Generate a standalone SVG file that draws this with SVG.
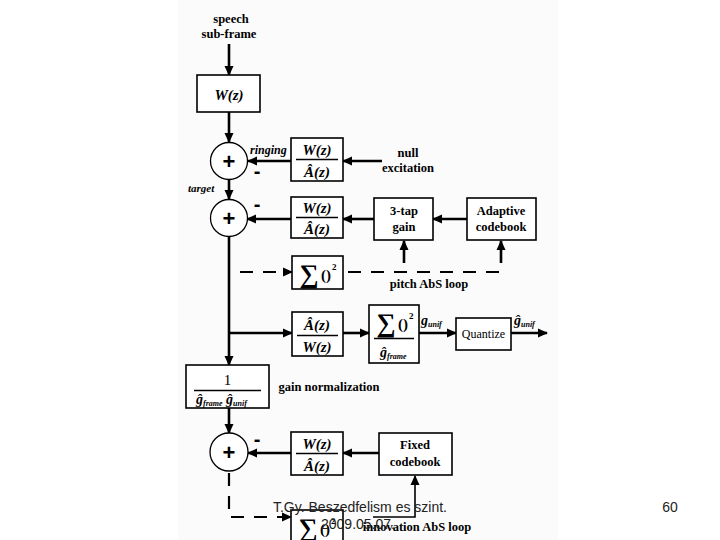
<svg xmlns="http://www.w3.org/2000/svg" width="720" height="540" viewBox="0 0 720 540">
<defs>
<marker id="ah" markerUnits="userSpaceOnUse" markerWidth="10" markerHeight="10" refX="9" refY="5" orient="auto">
<path d="M0,0.5 L10,5 L0,9.5 z" fill="#000"/>
</marker>
<style>
.t{font-family:"Liberation Serif",serif;font-weight:bold;font-size:12.5px;fill:#000;text-anchor:middle}
.ti{font-family:"Liberation Serif",serif;font-weight:bold;font-style:italic;font-size:12px;fill:#000}
.m{font-family:"Liberation Serif",serif;font-weight:bold;font-style:italic;font-size:15px;fill:#000;text-anchor:middle}
.sub{font-size:8px}
.box{fill:#fff;stroke:#000;stroke-width:1.6}
.fl{stroke:#000;stroke-width:1.5}
.c{stroke:#000;stroke-width:2.6;fill:none}
.d{stroke:#000;stroke-width:2.2;fill:none;stroke-dasharray:13 10}
.ft{font-family:"Liberation Sans",Arial,sans-serif;font-size:14px;fill:#222}
.sg{font-family:"Liberation Sans",sans-serif;font-weight:bold;font-size:22px;fill:#000;text-anchor:middle}
.mi{font-family:"Liberation Sans",sans-serif;font-weight:bold;font-size:20px;fill:#000;text-anchor:middle}
.sig{font-family:"Liberation Serif",serif;font-size:27px;font-weight:bold;text-anchor:middle}
.par{font-family:"Liberation Serif",serif;font-size:15px;font-weight:bold;text-anchor:middle}
.sup{font-family:"Liberation Serif",serif;font-size:9px;font-weight:bold}
</style>
</defs>
<rect x="0" y="0" width="720" height="540" fill="#fff"/>
<rect x="178" y="0" width="380" height="540" fill="#fbfbfb"/>

<g id="connectors">
<line class="c" x1="229" y1="44" x2="229" y2="75" marker-end="url(#ah)"/>
<line class="c" x1="229" y1="112" x2="229" y2="142" marker-end="url(#ah)"/>
<line class="c" x1="229" y1="179" x2="229" y2="199" marker-end="url(#ah)"/>
<line class="c" x1="382" y1="161" x2="343" y2="161" marker-end="url(#ah)"/>
<line class="c" x1="291" y1="161" x2="248" y2="161" marker-end="url(#ah)"/>
<line class="c" x1="467" y1="219" x2="433" y2="219" marker-end="url(#ah)"/>
<line class="c" x1="374" y1="219" x2="343" y2="219" marker-end="url(#ah)"/>
<line class="c" x1="291" y1="219" x2="247" y2="219" marker-end="url(#ah)"/>
<line class="c" x1="229" y1="236" x2="229" y2="365" marker-end="url(#ah)"/>
<line class="d" x1="240" y1="272" x2="292" y2="272" marker-end="url(#ah)"/>
<line class="d" x1="348" y1="272" x2="502" y2="272"/>
<line class="c" x1="404" y1="263" x2="404" y2="241" marker-end="url(#ah)"/>
<line class="c" x1="501" y1="263" x2="501" y2="241" marker-end="url(#ah)"/>
<line class="c" x1="229" y1="333" x2="292" y2="333" marker-end="url(#ah)"/>
<line class="c" x1="343" y1="333" x2="369" y2="333" marker-end="url(#ah)"/>
<line class="c" x1="419" y1="333" x2="456" y2="333" marker-end="url(#ah)"/>
<line class="c" x1="511" y1="333" x2="547" y2="333" marker-end="url(#ah)"/>
<line class="c" x1="229" y1="408" x2="229" y2="433" marker-end="url(#ah)"/>
<line class="c" x1="379" y1="453" x2="343" y2="453" marker-end="url(#ah)"/>
<line class="c" x1="291" y1="453" x2="248" y2="453" marker-end="url(#ah)"/>
<polyline class="d" points="229,473 229,517 291,517" marker-end="url(#ah)"/>
<polyline class="c" points="373,517 415,517 415,476" marker-end="url(#ah)" style="stroke-width:1.6"/>
</g>

<g id="speech">
<text class="t" x="231" y="23">speech</text>
<text class="t" x="229" y="38">sub-frame</text>
</g>

<g id="wz">
<rect class="box" x="197" y="75" width="63" height="37"/>
<text class="m" x="229" y="100">W(z)</text>
</g>

<g id="sum1">
<circle cx="229" cy="161" r="18.5" fill="#fff" stroke="#000" stroke-width="1.3"/>
<text class="sg" x="229" y="169">+</text>
<text class="ti" x="250" y="154">ringing</text>
<text class="mi" x="257" y="178">-</text>
</g>

<g id="sum2">
<circle cx="229" cy="218" r="18.5" fill="#fff" stroke="#000" stroke-width="1.3"/>
<text class="sg" x="229" y="226">+</text>
<text class="ti" x="188" y="192" style="font-size:11px">target</text>
<text class="mi" x="257" y="211">-</text>
</g>

<g id="wa1">
<rect class="box" x="291" y="138" width="52" height="43"/>
<text class="m" x="317" y="155">W(z)</text>
<line class="fl" x1="296" y1="159.5" x2="338" y2="159.5"/>
<text class="m" x="317" y="177">Â(z)</text>
</g>

<g id="null">
<text class="t" x="408" y="157">null</text>
<text class="t" x="408" y="172">excitation</text>
</g>

<g id="wa2">
<rect class="box" x="291" y="197" width="52" height="41"/>
<text class="m" x="317" y="213">W(z)</text>
<line class="fl" x1="296" y1="217.5" x2="338" y2="217.5"/>
<text class="m" x="317" y="234">Â(z)</text>
</g>

<g id="tap">
<rect class="box" x="374" y="198" width="59" height="42"/>
<text class="t" x="404" y="215">3-tap</text>
<text class="t" x="404" y="231">gain</text>
</g>

<g id="adaptive">
<rect class="box" x="467" y="198" width="69" height="42"/>
<text class="t" x="501" y="215">Adaptive</text>
<text class="t" x="501" y="231">codebook</text>
</g>

<g id="sq1">
<rect class="box" x="292" y="256" width="51" height="33"/>
<text class="sig" x="309" y="283">∑</text>
<text class="par" x="326" y="280">()</text>
<text class="sup" x="332" y="270">2</text>
<text class="t" x="429" y="288">pitch AbS loop</text>
</g>

<g id="aw">
<rect class="box" x="292" y="312" width="51" height="44"/>
<text class="m" x="317" y="330">Â(z)</text>
<line class="fl" x1="297" y1="335.5" x2="338" y2="335.5"/>
<text class="m" x="317" y="352">W(z)</text>
</g>

<g id="sumg">
<rect class="box" x="369" y="305" width="50" height="58"/>
<text class="sig" x="386" y="332">∑</text>
<text class="par" x="403" y="329">()</text>
<text class="sup" x="409" y="319">2</text>
<line class="fl" x1="374" y1="338.5" x2="414" y2="338.5"/>
<text class="ti" x="380" y="357" style="font-size:14px">ĝ<tspan class="sub" dy="2">frame</tspan></text>
<text class="ti" x="421" y="325" style="font-size:14px">g<tspan class="sub" dy="2">unif</tspan></text>
</g>

<g id="quant">
<rect class="box" x="456" y="318" width="55" height="32"/>
<text x="483.5" y="338" style="font-family:'Liberation Serif',serif;font-size:12px;text-anchor:middle">Quantize</text>
<text class="ti" x="514" y="325" style="font-size:14px">ĝ<tspan class="sub" dy="2">unif</tspan></text>
</g>

<g id="norm">
<rect class="box" x="186" y="365" width="83" height="43"/>
<text x="227.5" y="385" style="font-family:'Liberation Serif',serif;font-size:15px;text-anchor:middle">1</text>
<line class="fl" x1="194" y1="390.5" x2="261" y2="390.5"/>
<text class="ti" x="196" y="404" style="font-size:14px">ĝ<tspan class="sub" dy="2">frame</tspan><tspan dy="-2"> ĝ</tspan><tspan class="sub" dy="2">unif</tspan></text>
<text class="t" x="329" y="391">gain normalization</text>
</g>

<g id="sum3">
<circle cx="229" cy="452" r="19" fill="#fff" stroke="#000" stroke-width="1.3"/>
<text class="sg" x="229" y="460">+</text>
<text class="mi" x="257" y="446">-</text>
</g>

<g id="wa3">
<rect class="box" x="291" y="432" width="52" height="43"/>
<text class="m" x="317" y="449">W(z)</text>
<line class="fl" x1="296" y1="453.5" x2="338" y2="453.5"/>
<text class="m" x="317" y="471">Â(z)</text>
</g>

<g id="fixed">
<rect class="box" x="379" y="433" width="73" height="42"/>
<text class="t" x="415" y="449">Fixed</text>
<text class="t" x="415" y="466">codebook</text>
</g>

<g id="sq2">
<rect class="box" x="291" y="510" width="52" height="40"/>
<text class="sig" x="308" y="537">∑</text>
<text class="par" x="325" y="534">()</text>
<text class="sup" x="331" y="524">2</text>
<text class="t" x="417" y="531">innovation AbS loop</text>
</g>

<g id="footer">
<text class="ft" x="360" y="512" text-anchor="middle">T.Gy. Beszedfelism es szint.</text>
<text class="ft" x="358" y="529" text-anchor="middle">2009.05.07.</text>
<text class="ft" x="670" y="512" text-anchor="middle">60</text>
</g>
</svg>
